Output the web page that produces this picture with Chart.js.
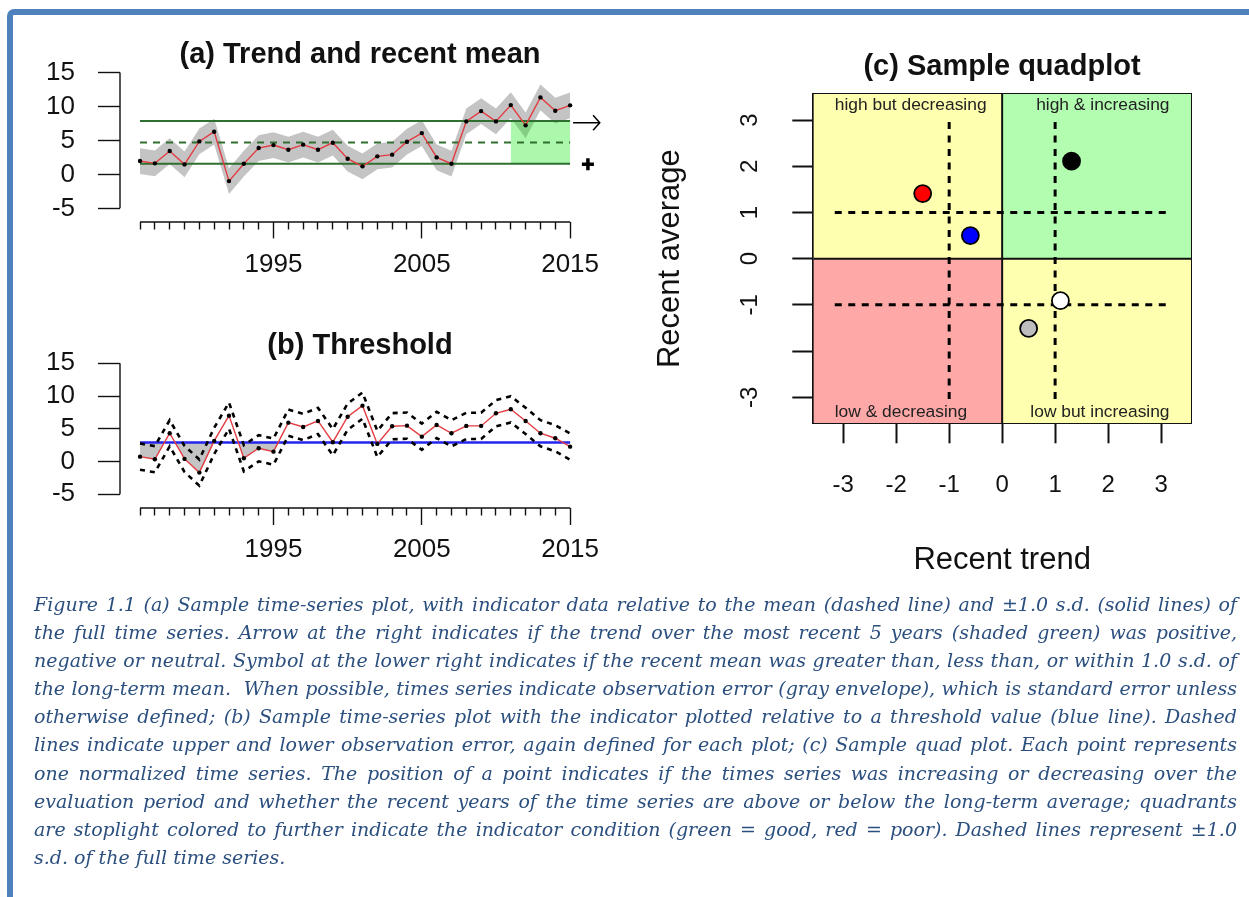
<!DOCTYPE html>
<html>
<head>
<meta charset="utf-8">
<script src="https://cdn.jsdelivr.net/npm/chart.js@4.4.0/dist/chart.umd.min.js"></script>
<style>
html,body{margin:0;padding:0;background:#fff;overflow:hidden;width:1249px;height:897px;position:relative;}
canvas{position:absolute;}
#frame{position:absolute;left:7px;top:9px;width:1400px;height:1000px;border-left:6px solid #4f81bd;border-top:6px solid #4f81bd;border-top-left-radius:7px;}
#caption{position:absolute;left:34px;top:590px;width:1203px;font-family:"DejaVu Serif",serif;font-style:italic;font-size:19px;line-height:28.1px;color:#2b4f7e;}
#caption div{white-space:nowrap;text-align:left;}
</style>
</head>
<body>
<div id="frame"></div>
<canvas id="ca" width="680" height="292" style="left:0px;top:0px;width:680px;height:292px;"></canvas>
<canvas id="cb" width="680" height="280" style="left:0px;top:290px;width:680px;height:280px;"></canvas>
<canvas id="cc" width="724" height="600" style="left:640px;top:0px;width:724px;height:600px;"></canvas>
<div id="caption">
<div><span>Figure 1.1 (a) Sample time-series plot, with indicator data relative to the mean (dashed line) and ±1.0 s.d. (solid lines) of</span></div>
<div><span>the full time series. Arrow at the right indicates if the trend over the most recent 5 years (shaded green) was positive,</span></div>
<div><span>negative or neutral. Symbol at the lower right indicates if the recent mean was greater than, less than, or within 1.0 s.d. of</span></div>
<div><span>the long-term mean.&nbsp; When possible, times series indicate observation error (gray envelope), which is standard error unless</span></div>
<div><span>otherwise defined; (b) Sample time-series plot with the indicator plotted relative to a threshold value (blue line). Dashed</span></div>
<div><span>lines indicate upper and lower observation error, again defined for each plot; (c) Sample quad plot. Each point represents</span></div>
<div><span>one normalized time series. The position of a point indicates if the times series was increasing or decreasing over the</span></div>
<div><span>evaluation period and whether the recent years of the time series are above or below the long-term average; quadrants</span></div>
<div><span>are stoplight colored to further indicate the indicator condition (green = good, red = poor). Dashed lines represent ±1.0</span></div>
<div class="last"><span>s.d. of the full time series.</span></div>
</div>
<script>
// ---------------- DATA ----------------
const years = [1986,1987,1988,1989,1990,1991,1992,1993,1994,1995,1996,1997,1998,1999,2000,2001,2002,2003,2004,2005,2006,2007,2008,2009,2010,2011,2012,2013,2014,2015];
const majorYears = [1995, 2005, 2015];
const yTicksTS = [-5, 0, 5, 10, 15];

// (a) Trend and recent mean
const trendValues = [1.96,1.62,3.43,1.47,4.85,6.28,-0.99,1.57,3.87,4.31,3.63,4.37,3.63,4.66,2.31,1.18,2.65,2.90,4.81,6.07,2.50,1.57,7.79,9.31,7.79,10.19,7.21,11.32,9.37,10.15];
const trendError = [1.9,1.9,1.9,1.9,1.9,1.9,1.9,1.9,1.9,1.9,1.9,1.9,1.9,1.9,1.9,1.9,1.9,1.9,1.9,1.9,1.9,1.9,1.9,1.9,1.9,1.9,1.9,1.9,1.9,1.9];
const trendMean = 4.7;
const trendUpperSd = 7.85;
const trendLowerSd = 1.55;
const recentPeriod = [2011, 2015];
const trendArrowLevel = 7.6;
const meanSymbolLevel = 1.5;

// (b) Threshold
const thresholdValues = [0.75,0.35,4.32,0.40,-1.69,3.15,7.01,0.50,2.03,1.51,5.94,5.28,6.20,2.95,6.85,8.53,2.69,5.39,5.48,3.80,5.59,4.32,5.44,5.44,7.37,7.98,6.20,4.32,3.56,2.27];
const thresholdError = [2.0,2.0,2.0,2.0,2.0,2.0,2.0,2.0,2.0,2.0,2.0,2.0,2.0,2.0,2.0,2.0,2.0,2.0,2.0,2.0,2.0,2.0,2.0,2.0,2.0,2.0,2.0,2.0,2.0,2.0];
const thresholdLevel = 2.9;
const shadeUntilYear = 1996;

// (c) Sample quadplot
const quadTrend = [-1.50, -0.60, 1.31, 1.10, 0.50];
const quadAverage = [1.41, 0.50, 2.11, -0.91, -1.51];
const quadColors = ['#ff0000', '#0000ff', '#000000', '#ffffff', '#bebebe'];
const quadTicks = [-3, -2, -1, 0, 1, 2, 3];
const quadYTickLabels = ['-3', '', '-1', '0', '1', '2', '3'];
const quadXTickLabels = ['-3', '-2', '-1', '0', '1', '2', '3'];
const quadNames = ['high but decreasing', 'high & increasing', 'low & decreasing', 'low but increasing'];
const quadLim = 3.565;
const sdMarks = [-1, 1];
const hDashSpan = [-3.16, 3.13];
const vDashSpan = [-3.17, 2.96];
const quadLabelX = 3.16;
const quadLabelY = 3.32;

// ---------------- CAPTION JUSTIFY ----------------
document.querySelectorAll('#caption div').forEach(d => {
  if (d.classList.contains('last')) return;
  const span = d.querySelector('span');
  const natural = span.getBoundingClientRect().width;
  const spaces = (span.textContent.match(/[ \u00a0]/g) || []).length;
  if (spaces) d.style.wordSpacing = ((1203 - natural) / spaces).toFixed(3) + 'px';
});

// ---------------- HELPERS ----------------
const FONT = '"Liberation Sans", Arial, Helvetica, sans-serif';
const xy = (xs, ys) => xs.map((x, i) => ({x, y: ys[i]}));
const hline = (x0, x1, y) => [{x: x0, y}, {x: x1, y}];
const vline = (x, y0, y1) => [{x, y: y0}, {x, y: y1}];
const firstYear = years[0], lastYear = years[years.length - 1];

const rAxisPlugin = {
  id: 'rAxis',
  afterDraw(chart, args, opts) {
    if (!opts || !opts.x) return;
    const {ctx, chartArea} = chart;
    const xs = chart.scales.x, ys = chart.scales.y;
    ctx.save();
    ctx.strokeStyle = '#111';
    ctx.lineWidth = 1.4;
    ctx.beginPath();
    const yb = Math.round(chartArea.bottom);
    ctx.moveTo(xs.getPixelForValue(opts.x[0]), yb);
    ctx.lineTo(xs.getPixelForValue(opts.x[1]), yb);
    const xl = Math.round(chartArea.left);
    ctx.moveTo(xl, ys.getPixelForValue(opts.y[0]));
    ctx.lineTo(xl, ys.getPixelForValue(opts.y[1]));
    ctx.stroke();
    ctx.restore();
  }
};

const quadTextPlugin = {
  id: 'quadText',
  afterDatasetsDraw(chart, args, opts) {
    if (!opts || !opts.items) return;
    const {ctx} = chart;
    const xs = chart.scales.x, ys = chart.scales.y;
    ctx.save();
    ctx.font = '17.4px ' + FONT;
    ctx.fillStyle = '#222';
    ctx.textBaseline = 'middle';
    opts.items.forEach(it => {
      ctx.textAlign = it.align;
      ctx.fillText(it.text, xs.getPixelForValue(it.x), ys.getPixelForValue(it.y));
    });
    ctx.restore();
  }
};

function tsScales(yMin, xHeight, xPad) {
  return {
    x: {
      type: 'linear', position: 'bottom', min: 1984.65, max: 2022.41,
      afterBuildTicks: s => { s.ticks = years.map(v => ({value: v})); },
      afterFit: s => { s.height = xHeight; s.paddingLeft = 0; s.paddingRight = 0; },
      border: {display: false},
      grid: {
        drawOnChartArea: false, drawTicks: true, tickLength: 16.7, tickColor: '#111', tickWidth: 1.4,
        tickBorderDash: c => (c.tick && majorYears.includes(c.tick.value)) ? [] : [7.5, 100]
      },
      ticks: {
        autoSkip: false, maxRotation: 0, minRotation: 0, padding: xPad, color: '#111',
        font: {family: FONT, size: 26},
        callback: v => majorYears.includes(v) ? String(v) : ''
      }
    },
    y: {
      type: 'linear', position: 'left', min: yMin, max: 15,
      afterBuildTicks: s => { s.ticks = yTicksTS.map(v => ({value: v})); },
      afterFit: s => { s.width = 80; },
      border: {display: false},
      grid: {drawOnChartArea: false, drawTicks: true, tickLength: 22, tickColor: '#111', tickWidth: 1.4},
      ticks: {padding: 23, color: '#111', font: {family: FONT, size: 26}, callback: v => String(v)}
    }
  };
}

const titleOpts = (text, padBottom) => ({
  display: true, text, color: '#111',
  font: {family: FONT, size: 29, weight: 'bold'},
  padding: {top: 0, bottom: padBottom}
});

// ---------------- (a) ----------------
const trendUpperEnv = trendValues.map((v, i) => v + trendError[i]);
const trendLowerEnv = trendValues.map((v, i) => v - trendError[i]);
new Chart(document.getElementById('ca'), {
  type: 'line',
  data: {
    datasets: [
      {data: xy(years, trendValues), borderColor: '#e23c42', borderWidth: 1.4, pointRadius: 2.2,
       pointBackgroundColor: '#000', pointBorderColor: '#000', pointBorderWidth: 0, fill: false, tension: 0},
      {data: [{x: lastYear + 1.2, y: meanSymbolLevel}], showLine: false, pointStyle: 'cross',
       pointRadius: 6, pointBorderWidth: 3.5, pointBorderColor: '#000'},
      {data: hline(lastYear + 0.2, lastYear + 2.0, trendArrowLevel), borderColor: '#000', borderWidth: 1.5, pointRadius: 0},
      {data: [{x: lastYear + 1.55, y: trendArrowLevel + 1.1}, {x: lastYear + 2.0, y: trendArrowLevel}, {x: lastYear + 1.55, y: trendArrowLevel - 1.1}],
       borderColor: '#000', borderWidth: 1.5, pointRadius: 0},
      {data: hline(firstYear, lastYear, trendUpperSd), borderColor: '#2f6f2f', borderWidth: 2, pointRadius: 0},
      {data: hline(firstYear, lastYear, trendMean), borderColor: '#2f6f2f', borderWidth: 2, borderDash: [7, 6], pointRadius: 0},
      {data: hline(firstYear, lastYear, trendLowerSd), borderColor: '#2f6f2f', borderWidth: 2, pointRadius: 0},
      {data: hline(recentPeriod[0], recentPeriod[1], trendUpperSd), borderColor: 'transparent', borderWidth: 1,
       pointRadius: 0, fill: '+1', backgroundColor: 'rgba(0,230,0,0.33)'},
      {data: hline(recentPeriod[0], recentPeriod[1], trendLowerSd), borderColor: 'transparent', borderWidth: 1, pointRadius: 0},
      {data: xy(years, trendUpperEnv), borderColor: 'transparent', borderWidth: 1, pointRadius: 0,
       fill: '+1', backgroundColor: '#c4c4c4'},
      {data: xy(years, trendLowerEnv), borderColor: 'transparent', borderWidth: 1, pointRadius: 0}
    ]
  },
  options: {
    responsive: false, animation: false, devicePixelRatio: 1,
    layout: {autoPadding: false, padding: {left: 40, right: 0, top: 37.6, bottom: 0}},
    scales: tsScales(-6.96, 70.3, 11),
    plugins: {
      legend: {display: false}, tooltip: {enabled: false},
      title: titleOpts('(a) Trend and recent mean', 0),
      rAxis: {x: [firstYear, lastYear], y: [yTicksTS[0], yTicksTS[yTicksTS.length - 1]]}
    }
  },
  plugins: [rAxisPlugin]
});

// ---------------- (b) ----------------
const thrUpper = thresholdValues.map((v, i) => v + thresholdError[i]);
const thrLower = thresholdValues.map((v, i) => v - thresholdError[i]);
const shadeCount = years.filter(y => y <= shadeUntilYear).length;
new Chart(document.getElementById('cb'), {
  type: 'line',
  data: {
    datasets: [
      {data: xy(years, thresholdValues), borderColor: '#e23c42', borderWidth: 1.4, pointRadius: 2.2,
       pointBackgroundColor: '#000', pointBorderColor: '#000', pointBorderWidth: 0, fill: false, tension: 0},
      {data: xy(years, thrUpper), borderColor: '#000', borderWidth: 2.6, borderDash: [5, 5], pointRadius: 0},
      {data: xy(years, thrLower), borderColor: '#000', borderWidth: 2.6, borderDash: [5, 5], pointRadius: 0},
      {data: hline(firstYear, lastYear, thresholdLevel), borderColor: '#2424f0', borderWidth: 2.5, pointRadius: 0},
      {data: xy(years.slice(0, shadeCount), thresholdValues.slice(0, shadeCount)), borderColor: 'transparent',
       borderWidth: 1, pointRadius: 0,
       fill: {target: {value: thresholdLevel}, above: 'rgba(0,0,0,0)', below: '#c4c4c4'}}
    ]
  },
  options: {
    responsive: false, animation: false, devicePixelRatio: 1,
    layout: {autoPadding: false, padding: {left: 40, right: 0, top: 38.5, bottom: 0}},
    scales: tsScales(-7.14, 61.7, 9.4),
    plugins: {
      legend: {display: false}, tooltip: {enabled: false},
      title: titleOpts('(b) Threshold', 0),
      rAxis: {x: [firstYear, lastYear], y: [yTicksTS[0], yTicksTS[yTicksTS.length - 1]]}
    }
  },
  plugins: [rAxisPlugin]
});

// ---------------- (c) ----------------
const dashStyle = {borderColor: '#000', borderWidth: 3, borderDash: [7, 6.5], pointRadius: 0};
new Chart(document.getElementById('cc'), {
  type: 'line',
  data: {
    datasets: [
      {data: xy(quadTrend, quadAverage), showLine: false, pointRadius: 8.5, pointBorderWidth: 1.8,
       pointBorderColor: '#000', pointBackgroundColor: quadColors},
      Object.assign({data: hline(hDashSpan[0], hDashSpan[1], sdMarks[1])}, dashStyle),
      Object.assign({data: hline(hDashSpan[0], hDashSpan[1], sdMarks[0])}, dashStyle),
      Object.assign({data: vline(sdMarks[0], vDashSpan[1], vDashSpan[0])}, dashStyle),
      Object.assign({data: vline(sdMarks[1], vDashSpan[1], vDashSpan[0])}, dashStyle),
      {data: vline(0, -quadLim, quadLim), borderColor: '#111', borderWidth: 2, pointRadius: 0},
      {data: hline(-quadLim, quadLim, 0), borderColor: '#111', borderWidth: 2, pointRadius: 0},
      {data: hline(-quadLim, 0, quadLim), borderColor: 'transparent', borderWidth: 1, pointRadius: 0,
       fill: {target: {value: 0}}, backgroundColor: '#ffffb0'},
      {data: hline(0, quadLim, quadLim), borderColor: 'transparent', borderWidth: 1, pointRadius: 0,
       fill: {target: {value: 0}}, backgroundColor: '#b2fdb0'},
      {data: hline(-quadLim, 0, -quadLim), borderColor: 'transparent', borderWidth: 1, pointRadius: 0,
       fill: {target: {value: 0}}, backgroundColor: '#ffa8a8'},
      {data: hline(0, quadLim, -quadLim), borderColor: 'transparent', borderWidth: 1, pointRadius: 0,
       fill: {target: {value: 0}}, backgroundColor: '#ffffb0'}
    ]
  },
  options: {
    responsive: false, animation: false, devicePixelRatio: 1,
    layout: {autoPadding: false, padding: {left: 0, right: 0, top: 49.6, bottom: 0}},
    scales: {
      x: {
        type: 'linear', position: 'bottom', min: -quadLim, max: quadLim,
        afterBuildTicks: s => { s.ticks = quadTicks.map(v => ({value: v})); },
        afterFit: s => { s.height = 176.7; },
        border: {display: true, color: '#111', width: 2},
        grid: {drawOnChartArea: false, drawTicks: true, tickLength: 20, tickColor: '#111', tickWidth: 2},
        ticks: {padding: 27.3, color: '#111', font: {family: FONT, size: 24}, maxRotation: 0, autoSkip: false,
                callback: v => quadXTickLabels[quadTicks.indexOf(v)]},
        title: {display: true, text: 'Recent trend', color: '#111', font: {family: FONT, size: 31},
                padding: {top: 0, bottom: 21.4}}
      },
      y: {
        type: 'linear', position: 'left', min: -quadLim, max: quadLim,
        afterBuildTicks: s => { s.ticks = quadTicks.map(v => ({value: v})); },
        afterFit: s => { s.width = 173.3; },
        border: {display: true, color: '#111', width: 2},
        grid: {drawOnChartArea: false, drawTicks: true, tickLength: 21, tickColor: '#111', tickWidth: 2},
        ticks: {padding: 31.6, color: '#111', font: {family: FONT, size: 24}, minRotation: 90, maxRotation: 90,
                crossAlign: 'center', autoSkip: false,
                callback: v => quadYTickLabels[quadTicks.indexOf(v)]},
        title: {display: true, text: 'Recent average', color: '#111', font: {family: FONT, size: 31},
                padding: {top: 11.4, bottom: 0}}
      },
      x2: {
        type: 'linear', position: 'top', display: true, min: -quadLim, max: quadLim,
        afterFit: s => { s.height = 0; },
        border: {display: true, color: '#111', width: 2},
        grid: {drawOnChartArea: false, drawTicks: false},
        ticks: {display: false}
      },
      y2: {
        type: 'linear', position: 'right', display: true, min: -quadLim, max: quadLim,
        afterFit: s => { s.width = 173; },
        border: {display: true, color: '#111', width: 2},
        grid: {drawOnChartArea: false, drawTicks: false},
        ticks: {display: false}
      }
    },
    plugins: {
      legend: {display: false}, tooltip: {enabled: false},
      title: titleOpts('(c) Sample quadplot', 9.6),
      quadText: {items: [
        {text: quadNames[0], x: -quadLabelX, y: quadLabelY, align: 'left'},
        {text: quadNames[1], x: quadLabelX, y: quadLabelY, align: 'right'},
        {text: quadNames[2], x: -quadLabelX, y: -quadLabelY, align: 'left'},
        {text: quadNames[3], x: quadLabelX, y: -quadLabelY, align: 'right'}
      ]}
    }
  },
  plugins: [quadTextPlugin]
});
</script>
</body>
</html>
